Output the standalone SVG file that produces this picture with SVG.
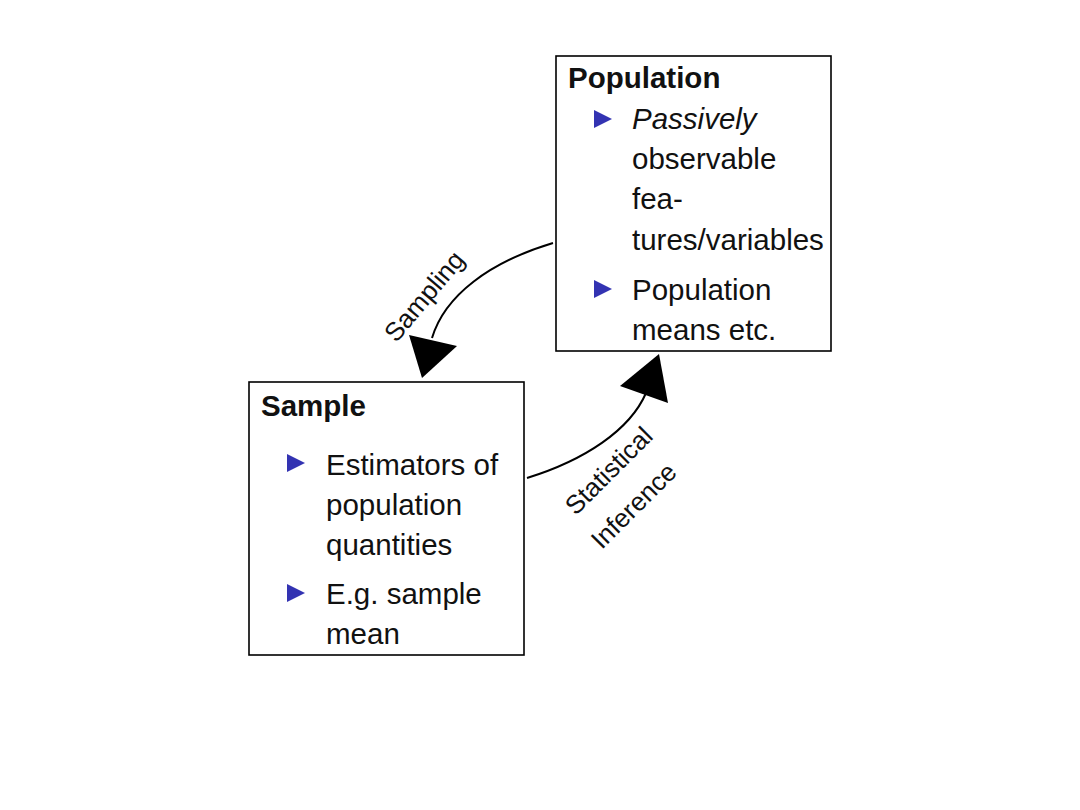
<svg xmlns="http://www.w3.org/2000/svg" width="1080" height="810" viewBox="0 0 1080 810">
<style>
.box{fill:#fff;stroke:#000;stroke-width:1.6}
.t{font-family:"Liberation Sans",Arial,sans-serif;font-size:29.5px;fill:#111}
.h{font-family:"Liberation Sans",Arial,sans-serif;font-size:29.5px;font-weight:bold;fill:#111}
.lbl{font-family:"Liberation Sans",Arial,sans-serif;font-size:26px;fill:#111}
.bul{fill:#3333b2}
.edge{fill:none;stroke:#000;stroke-width:2}
</style>
<rect width="1080" height="810" fill="#fff"/>
<g id="connectors">
<path class="edge" d="M553,243 C490,262 445,295 432,338"/>
<polygon points="422,378 409,335 457,346" fill="#000"/>
<path class="edge" d="M527,478 C585,460 630,430 646,393"/>
<polygon points="659,354 620,386 668,403" fill="#000"/>
<text class="lbl" transform="translate(431,302) rotate(-50)" text-anchor="middle">Sampling</text>
<text class="lbl" transform="translate(615,477) rotate(-45)" text-anchor="middle">Statistical</text>
<text class="lbl" transform="translate(640,512) rotate(-45)" text-anchor="middle">Inference</text>
</g>
<g id="population">
<rect class="box" x="556" y="56" width="275" height="295"/>
<text class="h" x="568" y="88">Population</text>
<polygon class="bul" points="594,110 612,119 594,128"/>
<text class="t" x="632" y="129" font-style="italic">Passively</text>
<text class="t" x="632" y="169">observable</text>
<text class="t" x="632" y="209">fea-</text>
<text class="t" x="632" y="250">tures/variables</text>
<polygon class="bul" points="594,280 612,289 594,298"/>
<text class="t" x="632" y="300">Population</text>
<text class="t" x="632" y="340">means etc.</text>
</g>
<g id="sample">
<rect class="box" x="249" y="382" width="275" height="273"/>
<text class="h" x="261" y="416">Sample</text>
<polygon class="bul" points="287,454 305,463 287,472"/>
<text class="t" x="326" y="475">Estimators of</text>
<text class="t" x="326" y="515">population</text>
<text class="t" x="326" y="555">quantities</text>
<polygon class="bul" points="287,584 305,593 287,602"/>
<text class="t" x="326" y="604">E.g.  sample</text>
<text class="t" x="326" y="644">mean</text>
</g>
</svg>
